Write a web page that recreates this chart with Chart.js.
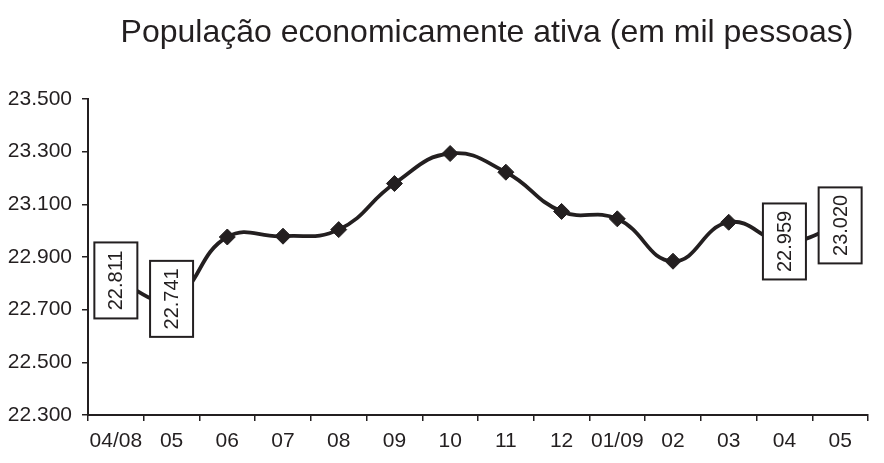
<!DOCTYPE html>
<html lang="pt">
<head>
    <meta name="viewport" content="width=device-width, initial-scale=1.0">
    <meta http-equiv="content-type" content="text/html; charset=UTF-8">
    <script src="https://cdn.jsdelivr.net/npm/chart.js"></script>
    <title>População economicamente ativa</title>
    <style>
        body {
            margin: 0;
            background-color: #fff;
        }
        .chart-container {
            position: relative;
            width: 884px;
            height: 463px;
        }
    </style>
</head>
<body>

<div class="chart-container">
    <canvas id="pea"></canvas>
</div>

<script>
    // dados (em mil pessoas)
    var titulo = 'População economicamente ativa (em mil pessoas)';
    var meses = ['04/08', '05', '06', '07', '08', '09', '10', '11', '12', '01/09', '02', '03', '04', '05'];
    var valores = [22811, 22741, 22976, 22979, 23004, 23179, 23293, 23222, 23073, 23045, 22884, 23032, 22959, 23020];
    var comRotulo = [0, 1, 12, 13]; // pontos com caixa de valor
    var yMin = 22300;
    var yMax = 23500;
    var yPasso = 200;

    var preto = '#231f20';
    var fonte = '"Liberation Sans", Arial, sans-serif';

    // 23500 -> "23.500"
    function formatar(v) {
        return String(Math.round(v)).replace(/\B(?=(\d{3})+(?!\d))/g, '.');
    }

    var raios = valores.map(function (v, i) {
        return comRotulo.indexOf(i) >= 0 ? 0 : 8;
    });

    // titulo desenhado a mao (fica deslocado para a direita)
    var tituloPlugin = {
        id: 'tituloPlugin',
        afterDraw: function (chart) {
            var ctx = chart.ctx;
            ctx.save();
            ctx.font = '32px ' + fonte;
            ctx.fillStyle = preto;
            ctx.textAlign = 'center';
            ctx.textBaseline = 'middle';
            ctx.fillText(titulo, 487, 33);
            ctx.restore();
        }
    };

    // caixas com o valor escrito na vertical
    var caixasPlugin = {
        id: 'caixasPlugin',
        afterDatasetsDraw: function (chart) {
            var ctx = chart.ctx;
            var meta = chart.getDatasetMeta(0);
            comRotulo.forEach(function (i) {
                var p = meta.data[i];
                var w = 43, h = 76;
                ctx.save();
                ctx.fillStyle = '#fff';
                ctx.strokeStyle = preto;
                ctx.lineWidth = 2;
                ctx.fillRect(p.x - w / 2, p.y - h / 2, w, h);
                ctx.strokeRect(p.x - w / 2, p.y - h / 2, w, h);
                ctx.translate(p.x, p.y);
                ctx.rotate(-Math.PI / 2);
                ctx.font = '20px ' + fonte;
                ctx.fillStyle = preto;
                ctx.textAlign = 'center';
                ctx.textBaseline = 'middle';
                ctx.fillText(formatar(valores[i]), 0, 1);
                ctx.restore();
            });
        }
    };

    var ctx = document.getElementById('pea');

    var chart = new Chart(ctx, {
        type: 'line',
        data: {
            labels: meses,
            datasets: [{
                data: valores,
                borderColor: preto,
                borderWidth: 3.8,
                tension: 0.45,
                fill: false,
                pointStyle: 'rectRot',
                pointRadius: raios,
                pointBackgroundColor: preto,
                pointBorderColor: preto,
                pointBorderWidth: 1
            }]
        },
        options: {
            animation: false,
            responsive: true,
            maintainAspectRatio: false,
            layout: {
                padding: { top: 99, right: 16, bottom: 0, left: 0 }
            },
            scales: {
                x: {
                    offset: true,
                    grid: {
                        offset: true,
                        drawOnChartArea: false,
                        color: preto,
                        lineWidth: 1.5,
                        tickLength: 6
                    },
                    border: { display: true, color: preto, width: 2 },
                    ticks: {
                        color: preto,
                        font: { family: fonte, size: 21 },
                        maxRotation: 0,
                        autoSkip: false,
                        padding: 8
                    },
                    afterFit: function (scale) { scale.height = 48; }
                },
                y: {
                    min: yMin,
                    max: yMax,
                    grid: {
                        drawOnChartArea: false,
                        color: preto,
                        lineWidth: 1.5,
                        tickLength: 6
                    },
                    border: { display: true, color: preto, width: 2 },
                    ticks: {
                        stepSize: yPasso,
                        color: preto,
                        font: { family: fonte, size: 21 },
                        padding: 10,
                        callback: function (v) { return formatar(v); }
                    },
                    afterFit: function (scale) { scale.width = 88; }
                }
            },
            plugins: {
                legend: { display: false },
                tooltip: { enabled: false }
            }
        },
        plugins: [caixasPlugin, tituloPlugin]
    });
</script>

</body>
</html>
